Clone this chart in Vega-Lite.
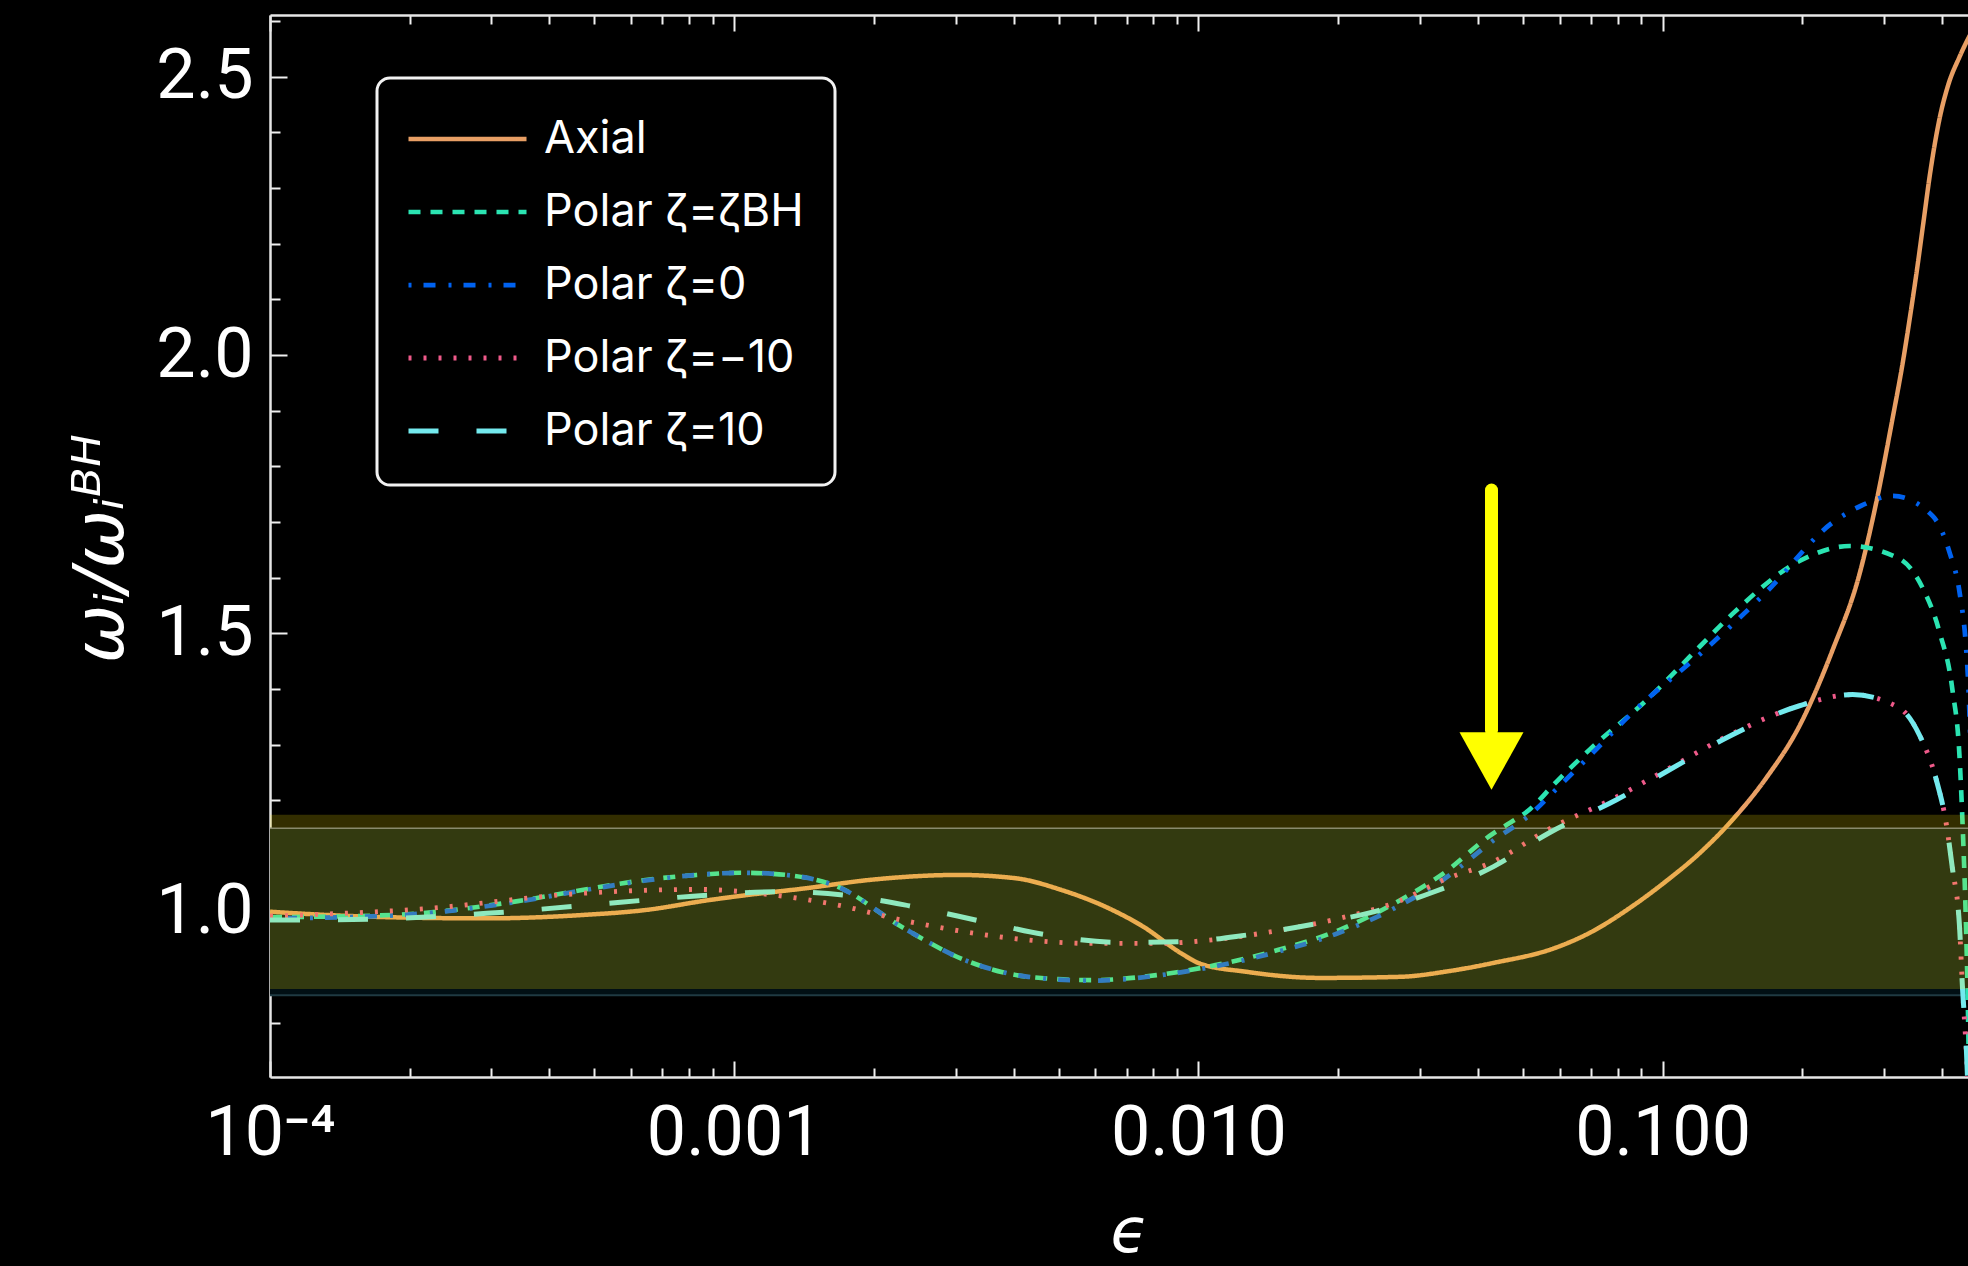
{
  "$schema": "https://vega.github.io/schema/vega-lite/v6.json",
  "width": 1698,
  "height": 1062,
  "autosize": {"type": "none"},
  "padding": {"left": 270, "top": 15, "right": 0, "bottom": 189},
  "background": "#000000",
  "config": {
    "view": {"stroke": null},
    "axis": {"grid": false}
  },
  "datasets": {
    "curves": [
      {"series": "Axial", "e": 0.0001, "v": 1.000},
      {"series": "Axial", "e": 0.000133, "v": 0.994},
      {"series": "Axial", "e": 0.000182, "v": 0.990},
      {"series": "Axial", "e": 0.000293, "v": 0.988},
      {"series": "Axial", "e": 0.00047, "v": 0.994},
      {"series": "Axial", "e": 0.000644, "v": 1.003},
      {"series": "Axial", "e": 0.000885, "v": 1.021},
      {"series": "Axial", "e": 0.001068, "v": 1.030},
      {"series": "Axial", "e": 0.001424, "v": 1.042},
      {"series": "Axial", "e": 0.001953, "v": 1.057},
      {"series": "Axial", "e": 0.00304, "v": 1.066},
      {"series": "Axial", "e": 0.004045, "v": 1.060},
      {"series": "Axial", "e": 0.00507, "v": 1.039},
      {"series": "Axial", "e": 0.0063, "v": 1.009},
      {"series": "Axial", "e": 0.00761, "v": 0.973},
      {"series": "Axial", "e": 0.00919, "v": 0.925},
      {"series": "Axial", "e": 0.01006, "v": 0.907},
      {"series": "Axial", "e": 0.01269, "v": 0.892},
      {"series": "Axial", "e": 0.01832, "v": 0.881},
      {"series": "Axial", "e": 0.02725, "v": 0.883},
      {"series": "Axial", "e": 0.0345, "v": 0.893},
      {"series": "Axial", "e": 0.04322, "v": 0.908},
      {"series": "Axial", "e": 0.0587, "v": 0.935},
      {"series": "Axial", "e": 0.07, "v": 0.963},
      {"series": "Axial", "e": 0.0861, "v": 1.010},
      {"series": "Axial", "e": 0.1018, "v": 1.055},
      {"series": "Axial", "e": 0.1201, "v": 1.105},
      {"series": "Axial", "e": 0.1414, "v": 1.165},
      {"series": "Axial", "e": 0.1671, "v": 1.240},
      {"series": "Axial", "e": 0.1972, "v": 1.334},
      {"series": "Axial", "e": 0.2323, "v": 1.470},
      {"series": "Axial", "e": 0.2656, "v": 1.607},
      {"series": "Axial", "e": 0.2885, "v": 1.735},
      {"series": "Axial", "e": 0.312, "v": 1.881},
      {"series": "Axial", "e": 0.3296, "v": 1.990},
      {"series": "Axial", "e": 0.342, "v": 2.075},
      {"series": "Axial", "e": 0.354, "v": 2.160},
      {"series": "Axial", "e": 0.3641, "v": 2.235},
      {"series": "Axial", "e": 0.3774, "v": 2.330},
      {"series": "Axial", "e": 0.395, "v": 2.425},
      {"series": "Axial", "e": 0.4129, "v": 2.487},
      {"series": "Axial", "e": 0.4357, "v": 2.535},
      {"series": "Axial", "e": 0.4548, "v": 2.568},
      {"series": "Axial", "e": 0.47, "v": 2.590},

      {"series": "Polar ζ=ζBH", "e": 0.0001, "v": 0.990},
      {"series": "Polar ζ=ζBH", "e": 0.000182, "v": 0.994},
      {"series": "Polar ζ=ζBH", "e": 0.000342, "v": 1.019},
      {"series": "Polar ζ=ζBH", "e": 0.00047, "v": 1.039},
      {"series": "Polar ζ=ζBH", "e": 0.000644, "v": 1.057},
      {"series": "Polar ζ=ζBH", "e": 0.00083, "v": 1.066},
      {"series": "Polar ζ=ζBH", "e": 0.001037, "v": 1.070},
      {"series": "Polar ζ=ζBH", "e": 0.001296, "v": 1.066},
      {"series": "Polar ζ=ζBH", "e": 0.001669, "v": 1.045},
      {"series": "Polar ζ=ζBH", "e": 0.002293, "v": 0.973},
      {"series": "Polar ζ=ζBH", "e": 0.00314, "v": 0.913},
      {"series": "Polar ζ=ζBH", "e": 0.004305, "v": 0.883},
      {"series": "Polar ζ=ζBH", "e": 0.00591, "v": 0.877},
      {"series": "Polar ζ=ζBH", "e": 0.00812, "v": 0.886},
      {"series": "Polar ζ=ζBH", "e": 0.01088, "v": 0.904},
      {"series": "Polar ζ=ζBH", "e": 0.01481, "v": 0.931},
      {"series": "Polar ζ=ζBH", "e": 0.02009, "v": 0.967},
      {"series": "Polar ζ=ζBH", "e": 0.02725, "v": 1.021},
      {"series": "Polar ζ=ζBH", "e": 0.03373, "v": 1.069},
      {"series": "Polar ζ=ζBH", "e": 0.04322, "v": 1.141},
      {"series": "Polar ζ=ζBH", "e": 0.04554, "v": 1.153},
      {"series": "Polar ζ=ζBH", "e": 0.05192, "v": 1.185},
      {"series": "Polar ζ=ζBH", "e": 0.05867, "v": 1.231},
      {"series": "Polar ζ=ζBH", "e": 0.07063, "v": 1.296},
      {"series": "Polar ζ=ζBH", "e": 0.0923, "v": 1.380},
      {"series": "Polar ζ=ζBH", "e": 0.1201, "v": 1.476},
      {"series": "Polar ζ=ζBH", "e": 0.1414, "v": 1.535},
      {"series": "Polar ζ=ζBH", "e": 0.1972, "v": 1.630},
      {"series": "Polar ζ=ζBH", "e": 0.2527, "v": 1.657},
      {"series": "Polar ζ=ζBH", "e": 0.3238, "v": 1.634},
      {"series": "Polar ζ=ζBH", "e": 0.363, "v": 1.582},
      {"series": "Polar ζ=ζBH", "e": 0.395, "v": 1.502},
      {"series": "Polar ζ=ζBH", "e": 0.4211, "v": 1.398},
      {"series": "Polar ζ=ζBH", "e": 0.4361, "v": 1.278},
      {"series": "Polar ζ=ζBH", "e": 0.4427, "v": 1.158},
      {"series": "Polar ζ=ζBH", "e": 0.4509, "v": 0.957},
      {"series": "Polar ζ=ζBH", "e": 0.4538, "v": 0.860},
      {"series": "Polar ζ=ζBH", "e": 0.46, "v": 0.550},

      {"series": "Polar ζ=0", "e": 0.0001, "v": 0.988},
      {"series": "Polar ζ=0", "e": 0.000182, "v": 0.993},
      {"series": "Polar ζ=0", "e": 0.000342, "v": 1.018},
      {"series": "Polar ζ=0", "e": 0.00047, "v": 1.038},
      {"series": "Polar ζ=0", "e": 0.000644, "v": 1.056},
      {"series": "Polar ζ=0", "e": 0.00083, "v": 1.066},
      {"series": "Polar ζ=0", "e": 0.001037, "v": 1.070},
      {"series": "Polar ζ=0", "e": 0.001296, "v": 1.066},
      {"series": "Polar ζ=0", "e": 0.001669, "v": 1.045},
      {"series": "Polar ζ=0", "e": 0.002293, "v": 0.973},
      {"series": "Polar ζ=0", "e": 0.00314, "v": 0.913},
      {"series": "Polar ζ=0", "e": 0.004305, "v": 0.883},
      {"series": "Polar ζ=0", "e": 0.00591, "v": 0.876},
      {"series": "Polar ζ=0", "e": 0.00812, "v": 0.885},
      {"series": "Polar ζ=0", "e": 0.01088, "v": 0.902},
      {"series": "Polar ζ=0", "e": 0.01481, "v": 0.928},
      {"series": "Polar ζ=0", "e": 0.02009, "v": 0.962},
      {"series": "Polar ζ=0", "e": 0.02725, "v": 1.012},
      {"series": "Polar ζ=0", "e": 0.03373, "v": 1.058},
      {"series": "Polar ζ=0", "e": 0.04322, "v": 1.128},
      {"series": "Polar ζ=0", "e": 0.05192, "v": 1.175},
      {"series": "Polar ζ=0", "e": 0.05867, "v": 1.218},
      {"series": "Polar ζ=0", "e": 0.07063, "v": 1.285},
      {"series": "Polar ζ=0", "e": 0.08614, "v": 1.358},
      {"series": "Polar ζ=0", "e": 0.1201, "v": 1.462},
      {"series": "Polar ζ=0", "e": 0.1671, "v": 1.574},
      {"series": "Polar ζ=0", "e": 0.2323, "v": 1.699},
      {"series": "Polar ζ=0", "e": 0.2656, "v": 1.728},
      {"series": "Polar ζ=0", "e": 0.3128, "v": 1.747},
      {"series": "Polar ζ=0", "e": 0.3815, "v": 1.711},
      {"series": "Polar ζ=0", "e": 0.4148, "v": 1.646},
      {"series": "Polar ζ=0", "e": 0.4361, "v": 1.574},
      {"series": "Polar ζ=0", "e": 0.4509, "v": 1.470},
      {"series": "Polar ζ=0", "e": 0.4548, "v": 1.420},
      {"series": "Polar ζ=0", "e": 0.47, "v": 1.000},

      {"series": "Polar ζ=−10", "e": 0.0001, "v": 0.992},
      {"series": "Polar ζ=−10", "e": 0.000213, "v": 1.005},
      {"series": "Polar ζ=−10", "e": 0.00047, "v": 1.033},
      {"series": "Polar ζ=−10", "e": 0.000834, "v": 1.040},
      {"series": "Polar ζ=−10", "e": 0.001215, "v": 1.030},
      {"series": "Polar ζ=−10", "e": 0.001669, "v": 1.012},
      {"series": "Polar ζ=−10", "e": 0.002293, "v": 0.985},
      {"series": "Polar ζ=−10", "e": 0.003134, "v": 0.964},
      {"series": "Polar ζ=−10", "e": 0.004305, "v": 0.949},
      {"series": "Polar ζ=−10", "e": 0.00591, "v": 0.943},
      {"series": "Polar ζ=−10", "e": 0.00812, "v": 0.943},
      {"series": "Polar ζ=−10", "e": 0.01088, "v": 0.950},
      {"series": "Polar ζ=−10", "e": 0.01481, "v": 0.966},
      {"series": "Polar ζ=−10", "e": 0.02009, "v": 0.988},
      {"series": "Polar ζ=−10", "e": 0.02725, "v": 1.020},
      {"series": "Polar ζ=−10", "e": 0.03373, "v": 1.057},
      {"series": "Polar ζ=−10", "e": 0.04322, "v": 1.090},
      {"series": "Polar ζ=−10", "e": 0.05678, "v": 1.148},
      {"series": "Polar ζ=−10", "e": 0.07957, "v": 1.206},
      {"series": "Polar ζ=−10", "e": 0.1035, "v": 1.258},
      {"series": "Polar ζ=−10", "e": 0.1414, "v": 1.320},
      {"series": "Polar ζ=−10", "e": 0.1972, "v": 1.370},
      {"series": "Polar ζ=−10", "e": 0.2565, "v": 1.390},
      {"series": "Polar ζ=−10", "e": 0.3238, "v": 1.366},
      {"series": "Polar ζ=−10", "e": 0.3576, "v": 1.317},
      {"series": "Polar ζ=−10", "e": 0.3886, "v": 1.237},
      {"series": "Polar ζ=−10", "e": 0.4083, "v": 1.158},
      {"series": "Polar ζ=−10", "e": 0.4211, "v": 1.077},
      {"series": "Polar ζ=−10", "e": 0.4361, "v": 0.973},
      {"series": "Polar ζ=−10", "e": 0.4427, "v": 0.861},
      {"series": "Polar ζ=−10", "e": 0.4509, "v": 0.750},
      {"series": "Polar ζ=−10", "e": 0.4538, "v": 0.700},
      {"series": "Polar ζ=−10", "e": 0.46, "v": 0.500},

      {"series": "Polar ζ=10", "e": 0.0001, "v": 0.985},
      {"series": "Polar ζ=10", "e": 0.0001506, "v": 0.986},
      {"series": "Polar ζ=10", "e": 0.000293, "v": 0.997},
      {"series": "Polar ζ=10", "e": 0.000569, "v": 1.017},
      {"series": "Polar ζ=10", "e": 0.000885, "v": 1.030},
      {"series": "Polar ζ=10", "e": 0.00125, "v": 1.036},
      {"series": "Polar ζ=10", "e": 0.00172, "v": 1.030},
      {"series": "Polar ζ=10", "e": 0.002434, "v": 1.009},
      {"series": "Polar ζ=10", "e": 0.003444, "v": 0.982},
      {"series": "Polar ζ=10", "e": 0.00473, "v": 0.958},
      {"series": "Polar ζ=10", "e": 0.00669, "v": 0.945},
      {"series": "Polar ζ=10", "e": 0.00919, "v": 0.946},
      {"series": "Polar ζ=10", "e": 0.01269, "v": 0.958},
      {"series": "Polar ζ=10", "e": 0.01832, "v": 0.980},
      {"series": "Polar ζ=10", "e": 0.02336, "v": 0.998},
      {"series": "Polar ζ=10", "e": 0.03178, "v": 1.034},
      {"series": "Polar ζ=10", "e": 0.04322, "v": 1.081},
      {"series": "Polar ζ=10", "e": 0.05678, "v": 1.141},
      {"series": "Polar ζ=10", "e": 0.07957, "v": 1.201},
      {"series": "Polar ζ=10", "e": 0.1035, "v": 1.255},
      {"series": "Polar ζ=10", "e": 0.1414, "v": 1.318},
      {"series": "Polar ζ=10", "e": 0.1972, "v": 1.370},
      {"series": "Polar ζ=10", "e": 0.2565, "v": 1.390},
      {"series": "Polar ζ=10", "e": 0.3238, "v": 1.366},
      {"series": "Polar ζ=10", "e": 0.3576, "v": 1.317},
      {"series": "Polar ζ=10", "e": 0.3886, "v": 1.237},
      {"series": "Polar ζ=10", "e": 0.4083, "v": 1.158},
      {"series": "Polar ζ=10", "e": 0.4211, "v": 1.077},
      {"series": "Polar ζ=10", "e": 0.4361, "v": 0.973},
      {"series": "Polar ζ=10", "e": 0.4427, "v": 0.861},
      {"series": "Polar ζ=10", "e": 0.4509, "v": 0.757},
      {"series": "Polar ζ=10", "e": 0.46, "v": 0.550}
    ],
    "tolerance": [{"e0": 0.0001, "e1": 0.4548, "lo": 0.85, "hi": 1.15}],
    "highlight": [{"e0": 0.0001, "e1": 0.4548, "lo": 0.861, "hi": 1.174}],
    "arrow": [{"e": 0.04279, "from": 1.7575, "to": 1.326, "head": 1.2707}]
  },
  "layer": [
    {
      "data": {"name": "tolerance"},
      "mark": {"type": "rect", "color": "#010f14", "clip": true},
      "encoding": {
        "x": {"field": "e0", "type": "quantitative", "axis": null},
        "x2": {"field": "e1"},
        "y": {"field": "lo", "type": "quantitative"},
        "y2": {"field": "hi"}
      }
    },
    {
      "data": {"name": "tolerance"},
      "mark": {"type": "rule", "color": "#6c7488", "strokeWidth": 1.5, "clip": true},
      "encoding": {
        "y": {"field": "hi", "type": "quantitative"}
      }
    },
    {
      "data": {"name": "tolerance"},
      "mark": {"type": "rule", "color": "#1f3a42", "strokeWidth": 2, "clip": true},
      "encoding": {
        "y": {"field": "lo", "type": "quantitative"}
      }
    },
    {
      "data": {"name": "curves"},
      "mark": {"type": "line", "interpolate": "monotone", "clip": true, "strokeCap": "butt"},
      "encoding": {
        "x": {
          "field": "e",
          "type": "quantitative",
          "scale": {"type": "log", "domain": [0.0001, 0.4548], "nice": false, "zero": false},
          "axis": {
            "orient": "bottom",
            "values": [0.0001, 0.0002, 0.0003, 0.0004, 0.0005, 0.0006, 0.0007, 0.0008, 0.0009, 0.001, 0.002, 0.003, 0.004, 0.005, 0.006, 0.007, 0.008, 0.009, 0.01, 0.02, 0.03, 0.04, 0.05, 0.06, 0.07, 0.08, 0.09, 0.1, 0.2, 0.3, 0.4],
            "labelExpr": "datum.value == 0.0001 ? '10⁻⁴' : datum.value == 0.001 ? '0.001' : datum.value == 0.01 ? '0.010' : datum.value == 0.1 ? '0.100' : ''",
            "tickSize": {"condition": {"test": "datum.value == 0.0001 || datum.value == 0.001 || datum.value == 0.01 || datum.value == 0.1", "value": -16}, "value": -9},
            "tickColor": "#f0f0f0",
            "tickWidth": 2,
            "domainColor": "#e6e6e6",
            "domainWidth": 2.5,
            "labelFont": "Roboto",
            "labelFontSize": 70,
            "labelColor": "#ffffff",
            "labelPadding": 38,
            "labelOverlap": false,
            "labelFlush": false,
            "labelBound": false,
            "title": "ϵ",
            "titleFont": "DejaVu Sans",
            "titleFontSize": 62,
            "titleFontStyle": "italic",
            "titleFontWeight": "normal",
            "titleColor": "#ffffff",
            "titleX": 859,
            "titleY": 174,
            "titleBaseline": "alphabetic",
            "titleAlign": "center"
          }
        },
        "y": {
          "field": "v",
          "type": "quantitative",
          "scale": {"domain": [0.703, 2.611], "nice": false, "zero": false},
          "axis": {
            "orient": "left",
            "values": [0.8, 0.9, 1.0, 1.1, 1.2, 1.3, 1.4, 1.5, 1.6, 1.7, 1.8, 1.9, 2.0, 2.1, 2.2, 2.3, 2.4, 2.5, 2.6],
            "labelExpr": "datum.value == 1 || datum.value == 1.5 || datum.value == 2 || datum.value == 2.5 ? format(datum.value, '.1f') : ''",
            "tickSize": {"condition": {"test": "datum.value == 1 || datum.value == 1.5 || datum.value == 2 || datum.value == 2.5", "value": -17}, "value": -10},
            "tickColor": "#f0f0f0",
            "tickWidth": 2,
            "domainColor": "#e6e6e6",
            "domainWidth": 2.5,
            "labelFont": "Roboto",
            "labelFontSize": 70,
            "labelColor": "#ffffff",
            "labelPadding": 34,
            "labelOverlap": false,
            "labelFlush": false,
            "labelBound": false,
            "title": "ωᵢ/ωᵢᴮᴴ",
            "titleFont": "DejaVu Sans",
            "titleFontSize": 70,
            "titleFontStyle": "italic",
            "titleFontWeight": "normal",
            "titleColor": "#ffffff",
            "titleAngle": -90,
            "titleX": -148,
            "titleY": 533,
            "titleBaseline": "alphabetic",
            "titleAlign": "center"
          }
        },
        "color": {
          "field": "series",
          "type": "nominal",
          "scale": {
            "domain": ["Axial", "Polar ζ=ζBH", "Polar ζ=0", "Polar ζ=−10", "Polar ζ=10"],
            "range": ["#e89f65", "#2be4b2", "#0062f0", "#ef5a8a", "#74eaee"]
          },
          "legend": {
            "orient": "none",
            "legendX": 107,
            "legendY": 63,
            "title": null,
            "fillColor": "#000000",
            "strokeColor": "#f2f2f2",
            "cornerRadius": 13,
            "padding": 31,
            "labelFont": "Inter",
            "labelFontSize": 45,
            "labelColor": "#ffffff",
            "labelLimit": 600,
            "labelOffset": 46.5,
            "rowPadding": 20,
            "symbolType": "M -2.1455 0 H 2.1455",
            "symbolSize": 3025,
            "symbolOffset": 29.5,
            "symbolStrokeWidth": 4,
            "encode": {"legend": {"update": {"strokeWidth": {"value": 3}}}}
          }
        },
        "strokeDash": {
          "field": "series",
          "type": "nominal",
          "scale": {
            "domain": ["Axial", "Polar ζ=ζBH", "Polar ζ=0", "Polar ζ=−10", "Polar ζ=10"],
            "range": [[1, 0], [12, 10], [3, 12, 12, 13], [3, 12], [30, 38]]
          },
          "legend": null
        },
        "strokeWidth": {
          "field": "series",
          "type": "nominal",
          "scale": {
            "domain": ["Axial", "Polar ζ=ζBH", "Polar ζ=0", "Polar ζ=−10", "Polar ζ=10"],
            "range": [4.5, 5, 5, 4.5, 5.5]
          },
          "legend": null
        }
      }
    },
    {
      "data": {"name": "arrow"},
      "mark": {"type": "rule", "color": "#ffff00", "strokeWidth": 13, "strokeCap": "round"},
      "encoding": {
        "x": {"field": "e", "type": "quantitative", "axis": null},
        "y": {"field": "from", "type": "quantitative"},
        "y2": {"field": "to"}
      }
    },
    {
      "data": {"name": "arrow"},
      "mark": {"type": "point", "shape": "M -1 -0.9 L 1 -0.9 L 0 0.9 Z", "size": 4096, "filled": true, "color": "#ffff00", "opacity": 1, "strokeWidth": 0},
      "encoding": {
        "x": {"field": "e", "type": "quantitative", "axis": null},
        "y": {"field": "head", "type": "quantitative"}
      }
    },
    {
      "data": {"name": "highlight"},
      "mark": {"type": "rect", "color": "#ffe600", "opacity": 0.2, "clip": true},
      "encoding": {
        "x": {
          "field": "e0",
          "type": "quantitative",
          "axis": {
            "orient": "top",
            "values": [0.0001, 0.0002, 0.0003, 0.0004, 0.0005, 0.0006, 0.0007, 0.0008, 0.0009, 0.001, 0.002, 0.003, 0.004, 0.005, 0.006, 0.007, 0.008, 0.009, 0.01, 0.02, 0.03, 0.04, 0.05, 0.06, 0.07, 0.08, 0.09, 0.1, 0.2, 0.3, 0.4],
            "labels": false,
            "title": null,
            "tickSize": {"condition": {"test": "datum.value == 0.0001 || datum.value == 0.001 || datum.value == 0.01 || datum.value == 0.1", "value": -16}, "value": -9},
            "tickColor": "#f0f0f0",
            "tickWidth": 2,
            "domainColor": "#e6e6e6",
            "domainWidth": 2.5
          }
        },
        "x2": {"field": "e1"},
        "y": {"field": "lo", "type": "quantitative"},
        "y2": {"field": "hi"}
      }
    }
  ],
  "resolve": {"axis": {"x": "independent"}}
}
